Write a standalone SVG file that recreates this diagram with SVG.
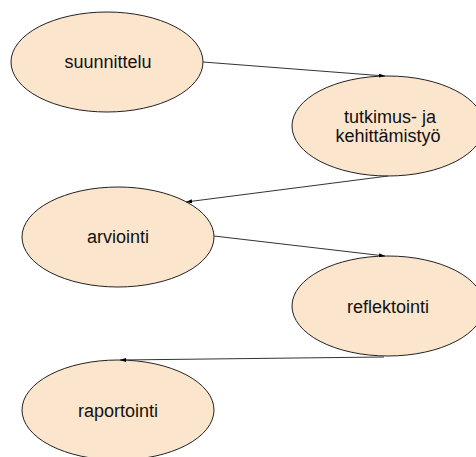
<svg xmlns="http://www.w3.org/2000/svg" width="476" height="457" viewBox="0 0 476 457">
<style>
.n ellipse{fill:#fce5cd;stroke:#222;stroke-width:1}
.n text{font-family:"Liberation Sans",Arial,sans-serif;font-size:18px;fill:#111;text-anchor:middle}
#edges line{stroke:#333;stroke-width:1;marker-end:url(#ah)}
</style>
<defs>
<marker id="ah" viewBox="0 0 6 4" refX="6" refY="2" markerWidth="6" markerHeight="4" markerUnits="userSpaceOnUse" orient="auto">
<path d="M0,0 L6,2 L0,4 Z" fill="#000"/>
</marker>
</defs>
<rect width="476" height="457" fill="#fff"/>
<g id="n1" class="n"><ellipse cx="107" cy="62" rx="96" ry="50"/><text x="108" y="68">suunnittelu</text></g>
<g id="n2" class="n"><ellipse cx="388" cy="126" rx="96" ry="50"/><text x="390" y="123">tutkimus- ja</text><text x="388" y="142">kehittämistyö</text></g>
<g id="n3" class="n"><ellipse cx="118" cy="237" rx="96" ry="50"/><text x="118" y="243">arviointi</text></g>
<g id="n4" class="n"><ellipse cx="388" cy="306" rx="96" ry="50"/><text x="388" y="313">reflektointi</text></g>
<g id="n5" class="n"><ellipse cx="118" cy="410" rx="96" ry="50"/><text x="118" y="417">raportointi</text></g>
<g id="edges">
<line x1="203" y1="62" x2="385" y2="76"/>
<line x1="388" y1="176" x2="186" y2="202"/>
<line x1="214" y1="236" x2="385" y2="256"/>
<line x1="384" y1="357" x2="120" y2="360"/>
</g>
</svg>
